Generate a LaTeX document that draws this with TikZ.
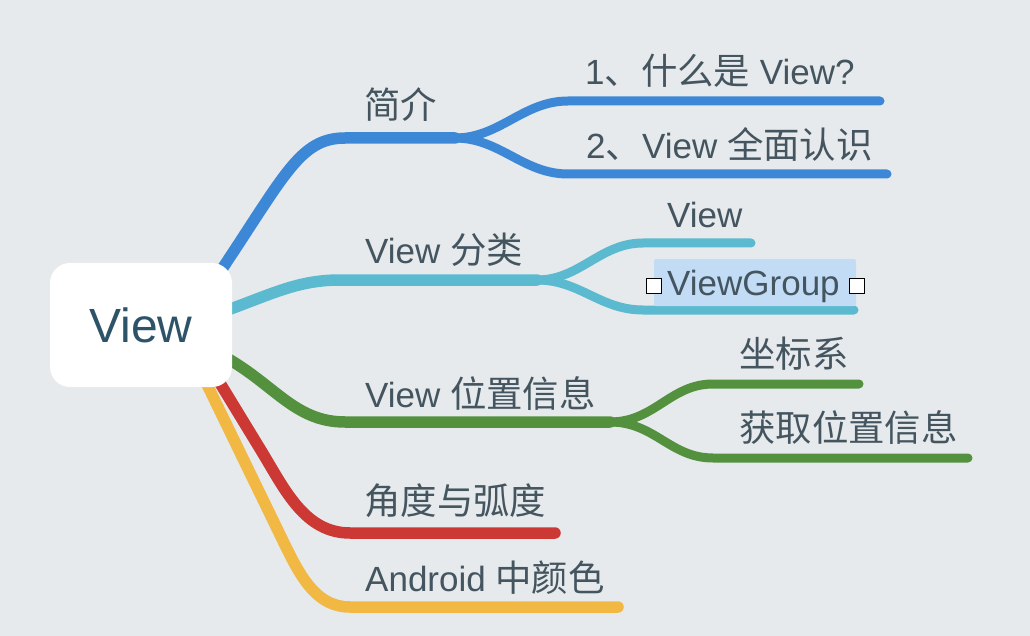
\documentclass[tikz,border=0pt]{standalone}
\usepackage{fontspec}
\setmainfont{Liberation Sans}
\newfontfamily\cjk[Scale=1.04]{Noto Sans CJK SC}
\definecolor{bgc}{HTML}{E6EAED}
\definecolor{cblue}{HTML}{3C88D7}
\definecolor{ccyan}{HTML}{5BBACF}
\definecolor{cgreen}{HTML}{54913F}
\definecolor{cred}{HTML}{CC3833}
\definecolor{cyellow}{HTML}{F2B844}
\definecolor{txt}{HTML}{44555F}
\definecolor{roottxt}{HTML}{2C5367}
\definecolor{hl}{HTML}{C3DCF6}
\pgfdeclarelayer{bottom}
\pgfdeclarelayer{lines}
\pgfsetlayers{bottom,lines,main}
\tikzset{
  lbl/.style={font=\fontsize{35}{40}\selectfont, text=txt, anchor=base west, inner sep=0pt},
  mainbr/.style={line width=11.5pt, line cap=round},
  subbr/.style={line width=9pt, line cap=round},
  handle/.style={draw=black, fill=white, line width=1.5pt, minimum size=15pt, inner sep=0pt},
}
\begin{document}
\begin{tikzpicture}[x=1pt,y=-1pt]
\begin{pgfonlayer}{bottom}
\fill[bgc] (0,0) rectangle (1030,636);
\end{pgfonlayer}
\useasboundingbox (0,0) rectangle (1030,636);

% root
\node[fill=white, rounded corners=20pt, minimum width=182pt, minimum height=124pt, inner sep=0pt,
      text=roottxt, font=\fontsize{48}{54}\selectfont] (root) at (141,325) {View};

% labels
\node[lbl] (l1) at (364,119) {\cjk 简介};
\node[lbl] (l11) at (585,85) {1{\cjk 、什么是} View?};
\node[lbl] (l12) at (586,159) {2{\cjk 、}View {\cjk 全面认识}};
\node[lbl] (l2) at (365,263) {View {\cjk 分类}};
\node[lbl] (l21) at (667,228) {View};
\node[fill=hl, rounded corners=2pt, minimum width=202pt, minimum height=47pt, inner sep=0pt] (hlbox) at (755,282.5) {};
\node[lbl] (l22) at (667,295) {ViewGroup};
\node[handle] (hL) at (654,286) {};
\node[handle] (hR) at (857,286) {};
\node[lbl] (l3) at (365,407) {View {\cjk 位置信息}};
\node[lbl] (l31) at (739,367) {\cjk 坐标系};
\node[lbl] (l32) at (739,441) {\cjk 获取位置信息};
\node[lbl] (l4) at (364,514) {\cjk 角度与弧度};
\node[lbl] (l5) at (365,591) {Android {\cjk 中颜色}};

% connector coordinates
\coordinate (s1) at (220,272);
\coordinate (f1) at (455,138);
\coordinate (e11) at (880,101);
\coordinate (e12) at (887,174);
\coordinate (s2) at (225,311);
\coordinate (f2) at (537,280);
\coordinate (e21) at (751,243);
\coordinate (e22) at (854,310);
\coordinate (s3) at (225,357);
\coordinate (f3) at (610,422);
\coordinate (e31) at (859,384);
\coordinate (e32) at (968,458);
\coordinate (s4) at (212,370);
\coordinate (e4) at (555,533);
\coordinate (s5) at (200,370);
\coordinate (e5) at (618,607);

\begin{pgfonlayer}{lines}
% blue
\draw[mainbr, cblue] (s1) .. controls (285,175) and (300,138) .. (345,138) -- (f1);
\draw[subbr, cblue] (f1) .. controls (500,138) and (523,101) .. (568,101) -- (e11);
\draw[subbr, cblue] (f1) .. controls (500,138) and (523,174) .. (568,174) -- (e12);
% cyan
\draw[mainbr, ccyan] (s2) .. controls (272,294) and (298,280) .. (340,280) -- (f2);
\draw[subbr, ccyan] (f2) .. controls (580,280) and (600,243) .. (643,243) -- (e21);
\draw[subbr, ccyan] (f2) .. controls (580,280) and (600,310) .. (643,310) -- (e22);
% green
\draw[mainbr, cgreen] (s3) .. controls (275,385) and (295,422) .. (345,422) -- (f3);
\draw[subbr, cgreen] (f3) .. controls (655,422) and (670,384) .. (713,384) -- (e31);
\draw[subbr, cgreen] (f3) .. controls (655,422) and (670,458) .. (713,458) -- (e32);
% red
\draw[mainbr, cred] (s4) -- (262,452) .. controls (285,490) and (305,533) .. (350,533) -- (e4);
% yellow
\draw[mainbr, cyellow] (s5) -- (285,545) .. controls (302,580) and (318,607) .. (350,607) -- (e5);
\end{pgfonlayer}
\end{tikzpicture}
\end{document}
